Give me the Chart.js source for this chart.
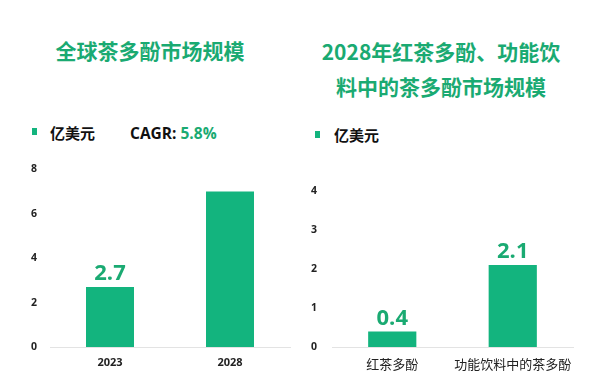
<!DOCTYPE html>
<html>
<head>
<meta charset="utf-8">
<script src="https://cdn.jsdelivr.net/npm/chart.js@4.4.1/dist/chart.umd.min.js"></script>
<style>
  html, body { margin:0; padding:0; background:#fff; width:600px; height:383px; overflow:hidden; }
  body { position:relative; font-family:"Noto Sans CJK SC","Noto Sans",sans-serif; }
  .title { position:absolute; color:#1aaa72; font-weight:bold; font-size:21px; text-align:center; line-height:35px; }
  .legend { position:absolute; font-weight:bold; font-size:15px; color:#111; line-height:20px; white-space:nowrap; }
  .sq { position:absolute; width:5px; height:7px; background:#13b47e; }
  .box { position:absolute; top:150px; width:300px; height:233px; }
</style>
</head>
<body>
<div class="title" id="t1" style="left:0; top:33px; width:300px;"></div>
<div class="title" id="t2" style="left:291px; top:34px; width:300px;"></div>
<div class="sq" style="left:32px; top:128px;"></div>
<div class="legend" style="left:50px; top:123px;"><span id="u1"></span></div>
<div class="legend" style="left:130px; top:123px; font-size:15.5px; font-family:'Open Sans','Noto Sans',sans-serif;">CAGR: <span style="color:#1aaa72" id="cagr"></span></div>
<div class="sq" style="left:315px; top:131px;"></div>
<div class="legend" style="left:334px; top:125px;"><span id="u2"></span></div>
<div class="box" style="left:0;"><canvas id="c1" width="300" height="233"></canvas></div>
<div class="box" style="left:300px;"><canvas id="c2" width="300" height="233"></canvas></div>
<script>
const leftTitle = "全球茶多酚市场规模";
const rightTitle = ["2028年红茶多酚、功能饮", "料中的茶多酚市场规模"];
const unitLabel = "亿美元";
const cagrText = "5.8%";

const leftCategories = ["2023", "2028"];
const leftValues = [2.7, 7.0];
const leftValueLabels = ["2.7", ""];
const leftTicks = [0, 2, 4, 6, 8];

const rightCategories = ["红茶多酚", "功能饮料中的茶多酚"];
const rightValues = [0.4, 2.1];
const rightValueLabels = ["0.4", "2.1"];
const rightTicks = [0, 1, 2, 3, 4];

document.getElementById('t1').textContent = leftTitle;
document.getElementById('t2').innerHTML = rightTitle.join('<br>');
document.getElementById('u1').textContent = unitLabel;
document.getElementById('u2').textContent = unitLabel;
document.getElementById('cagr').textContent = cagrText;

const GREEN = "#13b47e";
const TEXTGREEN = "#1aaa72";
const CJK = '"Noto Sans CJK SC","Noto Sans",sans-serif';
const LAT = '"Open Sans","Noto Sans",sans-serif';

const valueLabelPlugin = {
  id: 'valueLabels',
  afterDatasetsDraw(chart, args, opts) {
    const ctx = chart.ctx;
    const meta = chart.getDatasetMeta(0);
    ctx.save();
    ctx.font = 'bold 22px ' + LAT;
    ctx.fillStyle = TEXTGREEN;
    ctx.textAlign = 'center';
    ctx.textBaseline = 'bottom';
    meta.data.forEach((bar, i) => {
      const t = opts.labels[i];
      if (t) ctx.fillText(t, bar.x, bar.y - 2);
    });
    ctx.restore();
  }
};

function makeChart(id, cats, vals, labels, ticks, cfg) {
  return new Chart(document.getElementById(id), {
    type: 'bar',
    data: { labels: cats, datasets: [{ data: vals, backgroundColor: GREEN, categoryPercentage: 1, barPercentage: 0.4 }] },
    options: {
      responsive: false,
      animation: false,
      events: [],
      layout: { padding: { top: cfg.top, right: cfg.right, left: 0, bottom: 0 } },
      plugins: { legend: { display: false }, tooltip: { enabled: false }, valueLabels: { labels: labels } },
      scales: {
        x: {
          grid: { display: false, drawTicks: false },
          border: { display: true, color: '#e3e3e3', width: 1 },
          ticks: { color: '#222', font: cfg.xFont, padding: cfg.xPad, maxRotation: 0, autoSkip: false },
          afterFit(s) { s.height = cfg.xHeight; }
        },
        y: {
          min: ticks[0], max: ticks[ticks.length - 1],
          afterBuildTicks(s) { s.ticks = ticks.map(v => ({ value: v })); },
          grid: { display: false, drawTicks: false },
          border: { display: false },
          ticks: { color: '#222', font: { family: LAT, weight: 'bold', size: 10.5 }, padding: cfg.yPad },
          afterFit(s) { s.width = cfg.yWidth; }
        }
      }
    },
    plugins: [valueLabelPlugin]
  });
}

makeChart('c1', leftCategories, leftValues, leftValueLabels, leftTicks, {
  top: 16, right: 10, xHeight: 36, yWidth: 50, yPad: 13, xPad: 9,
  xFont: { family: LAT, weight: 'bold', size: 11 }
});
makeChart('c2', rightCategories, rightValues, rightValueLabels, rightTicks, {
  top: 41, right: 27, xHeight: 36, yWidth: 32, yPad: 15, xPad: 9,
  xFont: { family: CJK, weight: 'normal', size: 13 }
});
</script>
</body>
</html>
